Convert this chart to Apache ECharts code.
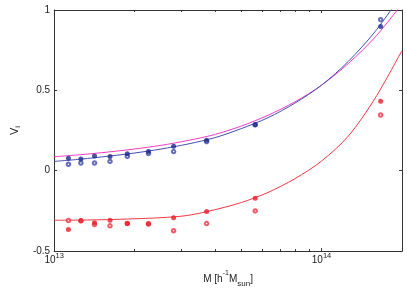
<!DOCTYPE html>
<html>
<head>
<meta charset="utf-8">
<script src="https://cdn.jsdelivr.net/npm/echarts@6.0.0/dist/echarts.min.js"></script>
<style>
html,body{margin:0;padding:0;background:#fff;}
#chart{width:407px;height:293px;}
</style>
</head>
<body>
<div id="chart"></div>
<script>
// Halo mass bins (h^-1 M_sun)
const massBins = [1.131e13, 1.259e13, 1.416e13, 1.618e13, 1.878e13, 2.253e13, 2.798e13, 3.718e13, 5.649e13, 1.664e14];
const blueFilled = [0.077, 0.073, 0.091, 0.089, 0.105, 0.119, 0.153, 0.190, 0.288, 0.897];
const blueOpen   = [0.040, 0.048, 0.048, 0.058, 0.089, 0.107, 0.119, 0.181, 0.285, 0.940];
const redFilled  = [-0.365, -0.310, -0.323, -0.308, -0.328, -0.331, -0.292, -0.254, -0.171, 0.432];
const redOpen    = [-0.310, -0.312, -0.335, -0.343, -0.328, -0.330, -0.373, -0.329, -0.250, 0.347];

// Model curves
const curveMass   = [1e13, 1.259e13, 1.585e13, 1.995e13, 2.512e13, 3.162e13, 3.981e13, 5.012e13, 6.310e13, 7.943e13, 1e14, 1.259e14, 1.585e14, 1.995e14];
const curveBlue   = [0.058, 0.072, 0.090, 0.110, 0.135, 0.166, 0.205, 0.262, 0.330, 0.420, 0.532, 0.680, 0.865, 1.095];
const curveMagenta= [0.087, 0.100, 0.116, 0.135, 0.158, 0.188, 0.225, 0.278, 0.345, 0.428, 0.532, 0.667, 0.830, 1.035];
const curveRed    = [-0.308, -0.307, -0.304, -0.299, -0.292, -0.278, -0.243, -0.198, -0.135, -0.050, 0.060, 0.215, 0.450, 0.745];

// Axis ticks
const xMin = 1e13, xMax = 2e14;
const xMinorTicks = [2e13, 3e13, 4e13, 5e13, 6e13, 7e13, 8e13, 9e13];
const yMin = -0.5, yMax = 1, yStep = 0.5;

const zip = (xs, ys) => xs.map((x, i) => [x, ys[i]]);
const frame = '#333';
const txt = '#222';
const font = 'Liberation Sans, Arial, Helvetica, sans-serif';

function xLabel(v) {
  const e = Math.log10(v);
  if (Math.abs(e - Math.round(e)) < 1e-6) return '{b|10}{s|' + Math.round(e) + '}';
  return '';
}

const chart = echarts.init(document.getElementById('chart'), null, {renderer: 'canvas'});
const baseX = {type: 'log', logBase: 10, min: xMin, max: xMax, gridIndex: 0, splitLine: {show: false}};
// overlay axis in decades, used only to place the minor (2..9) ticks of the log axis
const minorX = {type: 'value', min: Math.log10(xMin), max: Math.log10(xMax), gridIndex: 0,
  splitLine: {show: false}, axisLine: {show: false, onZero: false}, axisLabel: {show: false}};
const minorTickSpec = {show: true, inside: true, length: 2,
  customValues: xMinorTicks.map(v => Math.log10(v)), lineStyle: {color: frame}};

chart.setOption({
  animation: false,
  backgroundColor: '#fff',
  grid: {left: 47, right: 5, top: 10, bottom: 35, containLabel: false},
  xAxis: [
    Object.assign({}, baseX, {
      position: 'bottom',
      axisLine: {show: true, onZero: false, lineStyle: {color: frame, width: 1}},
      axisTick: {show: true, inside: true, length: 3, lineStyle: {color: frame}},
      axisLabel: {
        show: true, margin: 1, formatter: xLabel, fontFamily: font,
        rich: {
          b: {fontSize: 10, color: txt, fontFamily: font, verticalAlign: 'bottom', lineHeight: 13},
          s: {fontSize: 7.5, color: txt, fontFamily: font, verticalAlign: 'top', lineHeight: 13}
        }
      },
      name: 'M [h{sup|-1}M{sub|sun}]',
      nameLocation: 'middle', nameGap: 10,
      nameTextStyle: {
        fontSize: 10, color: txt, fontFamily: font, lineHeight: 18,
        rich: {
          sup: {fontSize: 7, color: txt, fontFamily: font, verticalAlign: 'top', lineHeight: 18},
          sub: {fontSize: 8, color: txt, fontFamily: font, verticalAlign: 'bottom', lineHeight: 18}
        }
      }
    }),
    Object.assign({}, minorX, {position: 'bottom', axisTick: minorTickSpec}),
    Object.assign({}, baseX, {
      position: 'top',
      axisLine: {show: true, onZero: false, lineStyle: {color: frame, width: 1}},
      axisTick: {show: true, inside: true, length: 3, lineStyle: {color: frame}},
      axisLabel: {show: false}
    }),
    Object.assign({}, minorX, {position: 'top', axisTick: minorTickSpec})
  ],
  yAxis: [
    {
      type: 'value', min: yMin, max: yMax, interval: yStep, position: 'left',
      splitLine: {show: false},
      axisLine: {show: true, onZero: false, lineStyle: {color: frame, width: 1}},
      axisTick: {show: true, inside: true, length: 3, lineStyle: {color: frame}},
      axisLabel: {margin: 4, fontSize: 10, color: txt, fontFamily: font},
      name: 'V{sub|i}', nameLocation: 'middle', nameGap: 32,
      nameTextStyle: {
        fontSize: 11, color: txt, fontFamily: font, lineHeight: 14,
        rich: {sub: {fontSize: 8, color: txt, fontFamily: font, verticalAlign: 'bottom', lineHeight: 14}}
      }
    },
    {
      type: 'value', min: yMin, max: yMax, interval: yStep, position: 'right',
      splitLine: {show: false},
      axisLine: {show: true, onZero: false, lineStyle: {color: frame, width: 1}},
      axisTick: {show: true, inside: true, length: 3, lineStyle: {color: frame}},
      axisLabel: {show: false}
    }
  ],
  series: [
    {type: 'line', data: zip(curveMass, curveMagenta), showSymbol: false, smooth: 0.3, clip: true,
     lineStyle: {color: '#f03cc4', width: 1}, z: 2},
    {type: 'line', data: zip(curveMass, curveBlue), showSymbol: false, smooth: 0.3, clip: true,
     lineStyle: {color: '#4450ac', width: 1}, z: 3},
    {type: 'line', data: zip(curveMass, curveRed), showSymbol: false, smooth: 0.3, clip: true,
     lineStyle: {color: '#f23844', width: 1}, z: 3},
    {type: 'scatter', data: zip(massBins, blueOpen), symbol: 'emptyCircle', symbolSize: 3.5,
     itemStyle: {color: '#3a48aa', borderColor: '#3a48aa', borderWidth: 0.7}, z: 4},
    {type: 'scatter', data: zip(massBins, redOpen), symbol: 'emptyCircle', symbolSize: 3.5,
     itemStyle: {color: '#ee3040', borderColor: '#ee3040', borderWidth: 0.7}, z: 4},
    {type: 'scatter', data: zip(massBins, blueFilled), symbol: 'circle', symbolSize: 5,
     itemStyle: {color: '#1c2a8c'}, z: 5},
    {type: 'scatter', data: zip(massBins, redFilled), symbol: 'circle', symbolSize: 5,
     itemStyle: {color: '#ee1c25'}, z: 5}
  ]
});
</script>
</body>
</html>
